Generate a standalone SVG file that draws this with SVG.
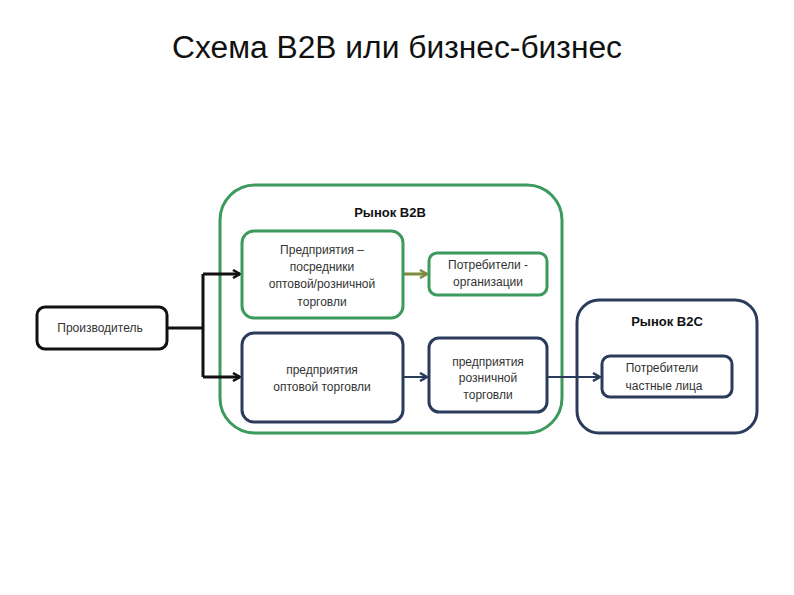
<svg xmlns="http://www.w3.org/2000/svg" width="794" height="595" viewBox="0 0 794 595">
<style>
.t{font-family:"Liberation Sans",Arial,sans-serif;font-size:12px;fill:#333;text-anchor:middle}
.h{font-family:"Liberation Sans",Arial,sans-serif;font-size:13px;font-weight:bold;fill:#111;text-anchor:middle}
.g{fill:#fff;stroke:#3b9a5c;stroke-width:3}
.n{fill:#fff;stroke:#2a3b5c;stroke-width:3}
.k{fill:#fff;stroke:#111;stroke-width:3}
</style>
<defs>
<marker id="ak" markerWidth="10" markerHeight="10" refX="8" refY="5" orient="auto" markerUnits="userSpaceOnUse"><path d="M1,1 L8,5 L1,9" fill="none" stroke="#111" stroke-width="2.5"/></marker>
<marker id="ao" markerWidth="10" markerHeight="10" refX="8" refY="5" orient="auto" markerUnits="userSpaceOnUse"><path d="M1,1 L8,5 L1,9" fill="none" stroke="#7d8a3c" stroke-width="2.5"/></marker>
<marker id="an" markerWidth="10" markerHeight="10" refX="8" refY="5" orient="auto" markerUnits="userSpaceOnUse"><path d="M1,1 L8,5 L1,9" fill="none" stroke="#2a3b5c" stroke-width="2.5"/></marker>
</defs>
<rect width="794" height="595" fill="#fff"/>
<text x="397" y="58" font-family="Liberation Sans,Arial,sans-serif" font-size="31" text-anchor="middle" fill="#111" textLength="450" lengthAdjust="spacingAndGlyphs">Схема B2B или бизнес-бизнес</text>

<g id="b2b-market">
<rect class="g" x="220" y="185" width="342" height="248" rx="35"/>
<text class="h" x="390" y="217">Рынок B2B</text>
</g>
<g id="b2c-market">
<rect class="n" x="577" y="300" width="180" height="133" rx="22"/>
<text class="h" x="667" y="326">Рынок B2C</text>
</g>

<g id="connectors" fill="none">
<path d="M167,328 H203 M203,274 V377" stroke="#111" stroke-width="3"/>
<path d="M203,274 H240" stroke="#111" stroke-width="3" marker-end="url(#ak)"/>
<path d="M203,377 H240" stroke="#111" stroke-width="3" marker-end="url(#ak)"/>
<path d="M403,274 H427" stroke="#7d8a3c" stroke-width="3" marker-end="url(#ao)"/>
<path d="M403,377 H427" stroke="#2a3b5c" stroke-width="2" marker-end="url(#an)"/>
<path d="M547,377 H600" stroke="#2a3b5c" stroke-width="2" marker-end="url(#an)"/>
</g>

<g id="producer">
<rect class="k" x="37" y="307" width="130" height="42" rx="8"/>
<text class="t" x="100" y="332">Производитель</text>
</g>
<g id="intermediaries">
<rect class="g" x="242" y="231" width="161" height="87" rx="12"/>
<text class="t" x="322" y="254">Предприятия –</text>
<text class="t" x="322" y="271">посредники</text>
<text class="t" x="322" y="288">оптовой/розничной</text>
<text class="t" x="322" y="306">торговли</text>
</g>
<g id="org-consumers">
<rect class="g" x="429" y="253" width="118" height="42" rx="8"/>
<text class="t" x="488" y="269">Потребители -</text>
<text class="t" x="488" y="286">организации</text>
</g>
<g id="wholesale">
<rect class="n" x="242" y="333" width="161" height="89" rx="12"/>
<text class="t" x="322" y="374">предприятия</text>
<text class="t" x="322" y="391">оптовой торговли</text>
</g>
<g id="retail">
<rect class="n" x="429" y="338" width="118" height="74" rx="10"/>
<text class="t" x="488" y="366">предприятия</text>
<text class="t" x="488" y="382">розничной</text>
<text class="t" x="488" y="399">торговли</text>
</g>
<g id="private-consumers">
<rect class="n" x="602" y="356" width="130" height="41" rx="8"/>
<text class="t" x="662" y="372">Потребители</text>
<text class="t" x="664" y="390">частные лица</text>
</g>
</svg>
